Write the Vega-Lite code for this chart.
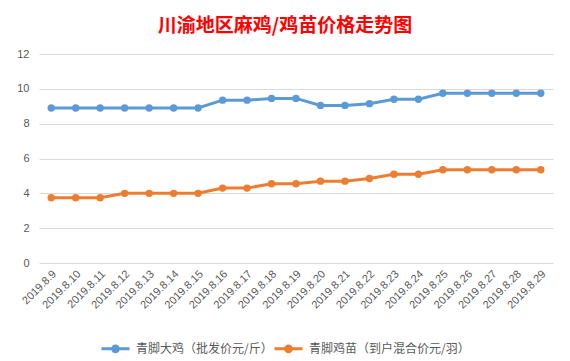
{
  "$schema": "https://vega.github.io/schema/vega-lite/v6.json",
  "width": 514,
  "height": 209,
  "autosize": {"type": "none"},
  "padding": {"left": 39, "top": 54, "right": 17, "bottom": 98},
  "background": "white",
  "title": {
    "text": "川渝地区麻鸡/鸡苗价格走势图",
    "color": "#ff0000",
    "font": "Noto Sans CJK SC",
    "fontSize": 19,
    "fontWeight": "bold",
    "anchor": "middle",
    "dx": -11,
    "offset": 12
  },
  "data": {
    "values": [
      {"date": "2019.8.9", "series": "青脚大鸡（批发价元/斤）", "price": 8.9},
      {"date": "2019.8.10", "series": "青脚大鸡（批发价元/斤）", "price": 8.9},
      {"date": "2019.8.11", "series": "青脚大鸡（批发价元/斤）", "price": 8.9},
      {"date": "2019.8.12", "series": "青脚大鸡（批发价元/斤）", "price": 8.9},
      {"date": "2019.8.13", "series": "青脚大鸡（批发价元/斤）", "price": 8.9},
      {"date": "2019.8.14", "series": "青脚大鸡（批发价元/斤）", "price": 8.9},
      {"date": "2019.8.15", "series": "青脚大鸡（批发价元/斤）", "price": 8.9},
      {"date": "2019.8.16", "series": "青脚大鸡（批发价元/斤）", "price": 9.35},
      {"date": "2019.8.17", "series": "青脚大鸡（批发价元/斤）", "price": 9.35},
      {"date": "2019.8.18", "series": "青脚大鸡（批发价元/斤）", "price": 9.45},
      {"date": "2019.8.19", "series": "青脚大鸡（批发价元/斤）", "price": 9.45},
      {"date": "2019.8.20", "series": "青脚大鸡（批发价元/斤）", "price": 9.05},
      {"date": "2019.8.21", "series": "青脚大鸡（批发价元/斤）", "price": 9.05},
      {"date": "2019.8.22", "series": "青脚大鸡（批发价元/斤）", "price": 9.15},
      {"date": "2019.8.23", "series": "青脚大鸡（批发价元/斤）", "price": 9.4},
      {"date": "2019.8.24", "series": "青脚大鸡（批发价元/斤）", "price": 9.4},
      {"date": "2019.8.25", "series": "青脚大鸡（批发价元/斤）", "price": 9.75},
      {"date": "2019.8.26", "series": "青脚大鸡（批发价元/斤）", "price": 9.75},
      {"date": "2019.8.27", "series": "青脚大鸡（批发价元/斤）", "price": 9.75},
      {"date": "2019.8.28", "series": "青脚大鸡（批发价元/斤）", "price": 9.75},
      {"date": "2019.8.29", "series": "青脚大鸡（批发价元/斤）", "price": 9.75},
      {"date": "2019.8.9", "series": "青脚鸡苗（到户混合价元/羽）", "price": 3.75},
      {"date": "2019.8.10", "series": "青脚鸡苗（到户混合价元/羽）", "price": 3.75},
      {"date": "2019.8.11", "series": "青脚鸡苗（到户混合价元/羽）", "price": 3.75},
      {"date": "2019.8.12", "series": "青脚鸡苗（到户混合价元/羽）", "price": 4.0},
      {"date": "2019.8.13", "series": "青脚鸡苗（到户混合价元/羽）", "price": 4.0},
      {"date": "2019.8.14", "series": "青脚鸡苗（到户混合价元/羽）", "price": 4.0},
      {"date": "2019.8.15", "series": "青脚鸡苗（到户混合价元/羽）", "price": 4.0},
      {"date": "2019.8.16", "series": "青脚鸡苗（到户混合价元/羽）", "price": 4.3},
      {"date": "2019.8.17", "series": "青脚鸡苗（到户混合价元/羽）", "price": 4.3},
      {"date": "2019.8.18", "series": "青脚鸡苗（到户混合价元/羽）", "price": 4.55},
      {"date": "2019.8.19", "series": "青脚鸡苗（到户混合价元/羽）", "price": 4.55},
      {"date": "2019.8.20", "series": "青脚鸡苗（到户混合价元/羽）", "price": 4.7},
      {"date": "2019.8.21", "series": "青脚鸡苗（到户混合价元/羽）", "price": 4.7},
      {"date": "2019.8.22", "series": "青脚鸡苗（到户混合价元/羽）", "price": 4.85},
      {"date": "2019.8.23", "series": "青脚鸡苗（到户混合价元/羽）", "price": 5.1},
      {"date": "2019.8.24", "series": "青脚鸡苗（到户混合价元/羽）", "price": 5.1},
      {"date": "2019.8.25", "series": "青脚鸡苗（到户混合价元/羽）", "price": 5.35},
      {"date": "2019.8.26", "series": "青脚鸡苗（到户混合价元/羽）", "price": 5.35},
      {"date": "2019.8.27", "series": "青脚鸡苗（到户混合价元/羽）", "price": 5.35},
      {"date": "2019.8.28", "series": "青脚鸡苗（到户混合价元/羽）", "price": 5.35},
      {"date": "2019.8.29", "series": "青脚鸡苗（到户混合价元/羽）", "price": 5.35}
    ]
  },
  "mark": {
    "type": "line",
    "strokeWidth": 3,
    "point": {"filled": true, "size": 55}
  },
  "encoding": {
    "x": {
      "field": "date",
      "type": "ordinal",
      "sort": null,
      "scale": {"type": "point", "padding": 0.5},
      "axis": {
        "title": null,
        "labelAngle": -45,
        "labelAlign": "right",
        "labelBaseline": "middle",
        "labelPadding": 9,
        "labelOffset": 3,
        "labelFont": "Liberation Sans",
        "labelFontSize": 11,
        "labelColor": "#595959",
        "ticks": false,
        "domain": false,
        "grid": false
      }
    },
    "y": {
      "field": "price",
      "type": "quantitative",
      "scale": {"domain": [0, 12], "nice": false},
      "axis": {
        "title": null,
        "values": [0, 2, 4, 6, 8, 10, 12],
        "labelFont": "Liberation Sans",
        "labelFontSize": 11,
        "labelColor": "#595959",
        "labelPadding": 10,
        "ticks": false,
        "domain": false,
        "gridColor": "#d9d9d9",
        "gridWidth": 1
      }
    },
    "color": {
      "field": "series",
      "type": "nominal",
      "scale": {
        "domain": ["青脚大鸡（批发价元/斤）", "青脚鸡苗（到户混合价元/羽）"],
        "range": ["#5b9bd5", "#ed7d31"]
      },
      "legend": {
        "title": null,
        "orient": "none",
        "direction": "horizontal",
        "legendX": 61,
        "legendY": 279,
        "symbolType": "M-1,0H1M0.2,0A0.2,0.2,0,1,1,-0.2,0A0.2,0.2,0,1,1,0.2,0",
        "symbolSize": 784,
        "symbolStrokeWidth": 3,
        "labelFont": "Noto Sans CJK SC",
        "labelFontSize": 12,
        "labelColor": "#595959",
        "labelOffset": 5,
        "labelLimit": 0,
        "columnPadding": -9,
        "encode": {
          "symbols": {"update": {"fill": {"scale": "color", "field": "value"}}}
        }
      }
    }
  },
  "config": {"view": {"stroke": null}}
}
